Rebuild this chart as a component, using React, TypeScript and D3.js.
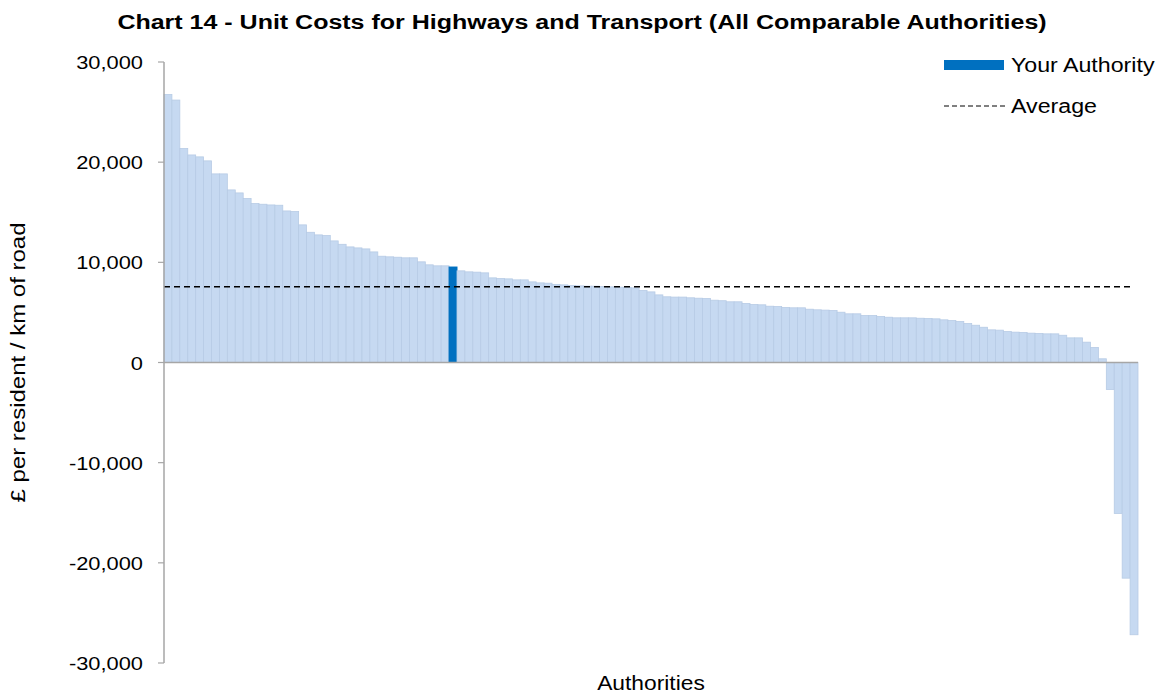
import React from "react";
import * as d3 from "d3";

// unit cost per authority, sorted descending (£ per resident / km of road)
const values: number[] = [
  26750, 26200, 21360, 20720, 20530, 20130, 18830, 18830, 17230, 16930,
  16370, 15870, 15800, 15730, 15700, 15130, 15070, 13740, 13000, 12740,
  12670, 12140, 11800, 11540, 11440, 11340, 11040, 10610, 10550, 10510,
  10450, 10450, 10050, 9750, 9650, 9650, 9580, 9150, 9050, 9020,
  8950, 8450, 8380, 8350, 8250, 8250, 8050, 7950, 7920, 7800,
  7750, 7680, 7650, 7620, 7620, 7580, 7550, 7520, 7480, 7450,
  7190, 7050, 6750, 6560, 6530, 6530, 6460, 6420, 6390, 6220,
  6170, 6060, 6060, 5890, 5790, 5760, 5620, 5590, 5490, 5460,
  5460, 5320, 5260, 5230, 5190, 5020, 4860, 4860, 4690, 4690,
  4590, 4520, 4460, 4460, 4460, 4420, 4390, 4360, 4260, 4190,
  4090, 3890, 3720, 3520, 3260, 3230, 3090, 3030, 3000, 2930,
  2900, 2860, 2860, 2720, 2460, 2460, 2030, 1500, 370, -2700,
  -15070, -21530, -27180,
];
const yourAuthorityIndex = 36;
const average = 7550;
const yTicks = [-30000, -20000, -10000, 0, 10000, 20000, 30000];

const W = 1163;
const H = 694;
const margin = { top: 62, right: 25, bottom: 31, left: 164 };

const font = "'Liberation Sans', Arial, sans-serif";

const App: React.FC = () => {
  const x = d3
    .scaleBand<number>()
    .domain(values.map((_, i) => i))
    .range([margin.left, W - margin.right])
    .padding(0);

  const y = d3
    .scaleLinear()
    .domain([-30000, 30000])
    .range([H - margin.bottom, margin.top]);

  // hyphen instead of d3's unicode minus, like the original
  const fmt = (v: number) => d3.format(",")(v).replace("\u2212", "-");
  const bw = x.bandwidth();

  return (
    <svg
      width={W}
      height={H}
      style={{ position: "absolute", left: 0, top: 0, background: "#fff" }}
      fontFamily={font}
    >
      <text
        transform={`translate(582,29) scale(1.25,1)`}
        textAnchor="middle"
        fontSize={20}
        fontWeight="bold"
        fill="#000"
      >
        Chart 14 - Unit Costs for Highways and Transport (All Comparable Authorities)
      </text>

      {/* bars */}
      {values.map((v, i) => {
        const mine = i === yourAuthorityIndex;
        return (
          <rect
            key={i}
            x={x(i)! - (mine ? 0.5 : 0)}
            y={y(Math.max(0, v))}
            width={bw + (mine ? 1 : 0)}
            height={Math.abs(y(v) - y(0))}
            fill={mine ? "#0070c0" : "#c6d9f1"}
            stroke={mine ? "none" : "#b7cbe5"}
            strokeWidth={0.8}
          />
        );
      })}

      {/* average line */}
      <line
        x1={margin.left}
        x2={x(values.length - 1)!}
        y1={y(average)}
        y2={y(average)}
        stroke="#000"
        strokeWidth={1.5}
        strokeDasharray="6,4"
      />

      {/* zero line */}
      <line
        x1={margin.left}
        x2={W - margin.right}
        y1={y(0)}
        y2={y(0)}
        stroke="#a6a6a6"
        strokeWidth={1.5}
      />

      {/* y axis */}
      <line
        x1={margin.left}
        x2={margin.left}
        y1={y(30000)}
        y2={y(-30000)}
        stroke="#a6a6a6"
        strokeWidth={1.5}
      />
      {yTicks.map((t) => (
        <g key={t}>
          <line
            x1={margin.left - 6}
            x2={margin.left}
            y1={y(t)}
            y2={y(t)}
            stroke="#a6a6a6"
            strokeWidth={1.2}
          />
          <text
            transform={`translate(${margin.left - 21},${y(t) + 7}) scale(1.15,1)`}
            textAnchor="end"
            fontSize={19}
            fill="#000"
          >
            {fmt(t)}
          </text>
        </g>
      ))}

      <text
        transform={`translate(25,${y(0)}) rotate(-90) scale(1.2,1)`}
        textAnchor="middle"
        fontSize={20}
        fill="#000"
      >
        £ per resident / km of road
      </text>

      <text
        transform={`translate(651,690) scale(1.14,1)`}
        textAnchor="middle"
        fontSize={20}
        fill="#000"
      >
        Authorities
      </text>

      {/* legend */}
      <rect x={944} y={60} width={60} height={10} fill="#0070c0" />
      <text
        transform={`translate(1011,72) scale(1.16,1)`}
        fontSize={20}
        fill="#000"
      >
        Your Authority
      </text>
      <line
        x1={944}
        x2={1006}
        y1={106}
        y2={106}
        stroke="#000"
        strokeWidth={1}
        strokeDasharray="5,3"
      />
      <text
        transform={`translate(1011,113) scale(1.16,1)`}
        fontSize={20}
        fill="#000"
      >
        Average
      </text>
    </svg>
  );
};

export default App;
